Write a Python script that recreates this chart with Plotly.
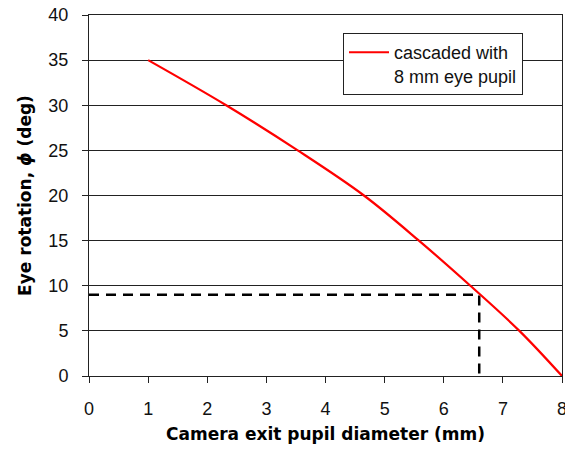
import plotly.graph_objects as go

# Data
pupil_mm = [1.0, 2.32, 3.53, 4.65, 5.58, 6.45, 7.28, 8.0]
rotation_deg = [35.0, 30.0, 25.0, 20.0, 15.0, 10.0, 5.0, 0.0]

guide_x = [0, 6.6, 6.6]
guide_y = [9, 9, 0]

x_ticks = [0, 1, 2, 3, 4, 5, 6, 7, 8]
y_ticks = [0, 5, 10, 15, 20, 25, 30, 35, 40]

fig = go.Figure()
fig.add_trace(go.Scatter(x=guide_x, y=guide_y, mode="lines",
                         line=dict(color="black", width=2.5, dash="10px,7px"),
                         showlegend=False, hoverinfo="skip"))
fig.add_trace(go.Scatter(x=pupil_mm, y=rotation_deg, mode="lines",
                         line=dict(color="#ff0000", width=2.2, shape="spline", smoothing=1.0),
                         name="cascaded with<br>8 mm eye pupil"))

tick_font = dict(family="Liberation Sans, Arial, sans-serif", size=18, color="#111")

fig.update_layout(
    width=565, height=452,
    margin=dict(l=89, r=3, t=15, b=76),
    paper_bgcolor="white", plot_bgcolor="white",
    showlegend=True,
    legend=dict(x=0.537, y=0.95, xanchor="left", yanchor="top", valign="top",
                bgcolor="white", bordercolor="#222", borderwidth=1,
                font=dict(family="Liberation Sans, Arial, sans-serif", size=18, color="#111"),
                itemwidth=40, tracegroupgap=0),
    xaxis=dict(range=[0, 8], tickvals=x_ticks, ticks="outside", ticklen=6, tickcolor="#222",
               tickwidth=1, showline=True, linecolor="#222", linewidth=1, mirror=True,
               showgrid=False, zeroline=False, tickfont=tick_font, automargin=False,
               ticklabelstandoff=10, ticklabeloverflow="allow",
               title=dict(text="<b>Camera exit pupil diameter (mm)</b>",
                          font=dict(family="DejaVu Sans, Verdana, sans-serif", size=17, color="black"),
                          standoff=10)),
    yaxis=dict(range=[0, 40], tickvals=y_ticks, ticks="outside", ticklen=6, tickcolor="#222",
               tickwidth=1, showline=True, linecolor="#222", linewidth=1, mirror=True,
               showgrid=True, gridcolor="#222", gridwidth=1, zeroline=False, tickfont=tick_font,
               automargin=False, ticklabelstandoff=10,
               title=dict(text="<b>Eye rotation, <i>ϕ</i> (deg)</b>",
                          font=dict(family="DejaVu Sans, Verdana, sans-serif", size=17, color="black"),
                          standoff=12)),
)

fig.write_html("out.html")
